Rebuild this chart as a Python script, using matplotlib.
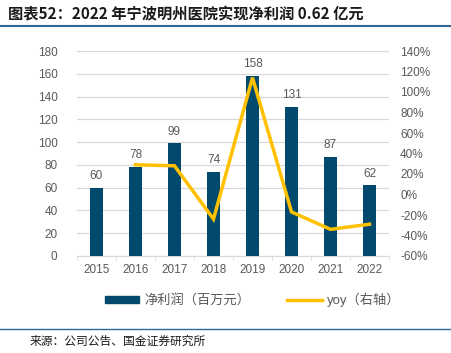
import matplotlib

matplotlib.use("Agg")
import matplotlib.pyplot as plt
from matplotlib.ticker import FuncFormatter
from matplotlib.lines import Line2D
from matplotlib.patches import Patch
import numpy as np

plt.rcParams["font.family"] = ["Liberation Sans", "Noto Sans CJK SC", "DejaVu Sans"]

BAR = "#014A6E"
LINE = "#FFC000"
TICK = "#595959"
GRID = "#D9D9D9"
RULE = "#2D6A99"

years = ["2015", "2016", "2017", "2018", "2019", "2020", "2021", "2022"]
profit = [60, 78, 99, 74, 158, 131, 87, 62]
yoy_years = ["2016", "2017", "2018", "2019", "2020", "2021", "2022"]
yoy = [29, 28, -24, 114, -17, -34, -29]

fig = plt.figure(figsize=(4.51, 3.53), dpi=100)
W, H = 451, 353
ax = fig.add_axes([77 / W, 1 - 256 / H, 312 / W, 205 / H])
ax2 = ax.twinx()

x = np.arange(len(years))
ax.bar(x, profit, width=0.34, color=BAR, zorder=3)
for xi, v in zip(x, profit):
    ax.text(xi, v + 5, f"{v}", ha="center", va="bottom", fontsize=8.5, color=TICK)

ax.set_xlim(-0.5, len(years) - 0.5)
ax.set_ylim(0, 180)
ax.set_yticks(np.arange(0, 181, 20))
ax.grid(axis="y", color=GRID, linewidth=0.9, zorder=0)
ax.set_xticks(x)
ax.set_xticklabels(years)
ax.set_xticks(np.arange(-0.5, len(years), 1), minor=True)
ax.tick_params(axis="x", which="major", length=0, pad=6, labelsize=8.5, colors=TICK)
ax.tick_params(axis="x", which="minor", length=3, color=GRID)
ax.tick_params(axis="y", length=0, pad=14, labelsize=8.5, colors=TICK)
for s in ["top", "right", "left"]:
    ax.spines[s].set_visible(False)
    ax2.spines[s].set_visible(False)
ax.spines["bottom"].set_color(GRID)
ax2.spines["bottom"].set_visible(False)

xi2 = [years.index(y) for y in yoy_years]
ax2.plot(xi2, yoy, color=LINE, linewidth=2.5, solid_joinstyle="miter", zorder=4)
ax2.set_ylim(-60, 140)
ax2.set_yticks(np.arange(-60, 141, 20))
ax2.yaxis.set_major_formatter(FuncFormatter(lambda v, p: f"{v:.0f}%"))
ax2.tick_params(axis="y", length=0, pad=8, labelsize=8.5, colors=TICK)

handles = [Patch(color=BAR), Line2D([0], [0], color=LINE, linewidth=2.5)]
fig.legend(handles, ["净利润（百万元）", "yoy（右轴）"], loc="center",
           bbox_to_anchor=(0.56, 1 - 300 / H), ncol=2, frameon=False,
           fontsize=9.5, handlelength=2.6, handleheight=0.5, handletextpad=0.4,
           columnspacing=2.8, labelcolor=TICK)

fig.text(8 / W, 1 - 14 / H, "图表52：2022 年宁波明州医院实现净利润 0.62 亿元",
         fontsize=11, fontweight="bold", style="italic", color="#1a1a1a",
         family=["Noto Sans CJK SC", "DejaVu Sans"],
         ha="left", va="center")
fig.add_artist(Line2D([0, 1], [1 - 26 / H, 1 - 26 / H], color=RULE, linewidth=1.5))
fig.add_artist(Line2D([0, 1], [1 - 329 / H, 1 - 329 / H], color=RULE, linewidth=1.0))
fig.text(30 / W, 1 - 341 / H, "来源：公司公告、国金证券研究所", fontsize=8.5,
         color="#1a1a1a", family=["Noto Sans CJK SC", "DejaVu Sans"],
         ha="left", va="center")

fig.savefig("out.png", dpi=100, facecolor="white")
